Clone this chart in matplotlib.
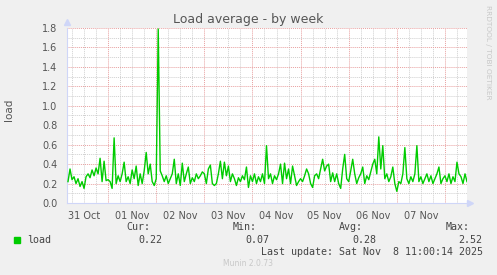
import numpy as np
import matplotlib
matplotlib.use("Agg")
import matplotlib.pyplot as plt

# hourly load averages, hours counted from 01 Nov 00:00
oct31 = [0.22, 0.35, 0.24, 0.27, 0.20, 0.25, 0.17, 0.22, 0.15, 0.27,
         0.30, 0.26, 0.34, 0.28, 0.36, 0.30, 0.46, 0.22, 0.43, 0.23]
nov01 = [0.24, 0.22, 0.15, 0.67, 0.20, 0.28, 0.22, 0.30, 0.42, 0.22, 0.27, 0.20,
         0.34, 0.25, 0.38, 0.18, 0.30, 0.20, 0.33, 0.52, 0.30, 0.40, 0.22, 0.18]
nov02 = [0.25, 1.79, 0.33, 0.28, 0.22, 0.28, 0.20, 0.25, 0.30, 0.45, 0.20, 0.30,
         0.18, 0.41, 0.22, 0.30, 0.37, 0.20, 0.26, 0.22, 0.30, 0.25, 0.28, 0.32]
nov03 = [0.30, 0.20, 0.35, 0.39, 0.20, 0.18, 0.20, 0.30, 0.43, 0.25, 0.42, 0.28,
         0.38, 0.22, 0.30, 0.25, 0.18, 0.26, 0.22, 0.28, 0.24, 0.37, 0.16, 0.28]
nov04 = [0.22, 0.30, 0.20, 0.27, 0.22, 0.30, 0.20, 0.59, 0.25, 0.30, 0.20, 0.28,
         0.24, 0.30, 0.40, 0.20, 0.41, 0.25, 0.35, 0.20, 0.38, 0.28, 0.18, 0.22]
nov05 = [0.25, 0.22, 0.28, 0.35, 0.30, 0.20, 0.16, 0.28, 0.30, 0.25, 0.35, 0.45,
         0.33, 0.38, 0.40, 0.22, 0.31, 0.22, 0.30, 0.20, 0.15, 0.35, 0.50, 0.25]
nov06 = [0.22, 0.33, 0.45, 0.30, 0.20, 0.26, 0.30, 0.37, 0.20, 0.28, 0.24, 0.32,
         0.40, 0.45, 0.30, 0.68, 0.35, 0.59, 0.25, 0.30, 0.22, 0.27, 0.37, 0.20]
nov07 = [0.12, 0.22, 0.20, 0.30, 0.57, 0.25, 0.20, 0.27, 0.22, 0.30, 0.59, 0.22,
         0.27, 0.20, 0.25, 0.30, 0.22, 0.28, 0.20, 0.25, 0.30, 0.37, 0.20, 0.25]
nov08 = [0.28, 0.22, 0.30, 0.20, 0.27, 0.22, 0.42, 0.30, 0.27, 0.20, 0.30, 0.22]

load = oct31 + nov01 + nov02 + nov03 + nov04 + nov05 + nov06 + nov07 + nov08
hours = np.arange(-len(oct31), -len(oct31) + len(load))

day_labels = ["31 Oct", "01 Nov", "02 Nov", "03 Nov", "04 Nov", "05 Nov", "06 Nov", "07 Nov"]
day_noon = [-12 + 24 * i for i in range(len(day_labels))]

stats = {"Cur:": "0.22", "Min:": "0.07", "Avg:": "0.28", "Max:": "2.52"}

W, H = 497, 275
fig = plt.figure(figsize=(W / 100, H / 100), dpi=100, facecolor="#F0F0F0")
ax = fig.add_axes([67 / W, (H - 203) / H, 400 / W, 175 / H], facecolor="white")

xmin, xmax = -20.5, 179
ymin, ymax = 0, 1.8
ax.set_xlim(xmin, xmax)
ax.set_ylim(ymin, ymax)

# grid: grey dotted minor, red dotted major
dots = (0, (1, 1))
minor_x = [h for h in np.arange(-18, 180, 6) if h % 24 != 0]
major_x = np.arange(0, 180, 24)
ax.vlines(minor_x, ymin, ymax, colors="#d0d0d0", linestyles=dots, lw=0.7, zorder=1)
ax.vlines(major_x, ymin, ymax, colors="#e8a0a0", linestyles=dots, lw=0.7, zorder=1)
ax.hlines(np.arange(0.1, 1.8, 0.2), xmin, xmax, colors="#d0d0d0", linestyles=dots, lw=0.7, zorder=1)
ax.hlines(np.arange(0.2, 1.81, 0.2), xmin, xmax, colors="#e8a0a0", linestyles=dots, lw=0.7, zorder=1)

ax.plot(hours, load, color="#00CC00", lw=1.0, zorder=3)

ax.set_xticks(day_noon, day_labels)
ax.set_yticks(np.arange(0, 1.81, 0.2), [f"{v:.1f}" for v in np.arange(0, 1.81, 0.2)])
ax.tick_params(length=0, labelsize=7, colors="#555555")
ax.tick_params(axis="y", pad=7)
ax.tick_params(axis="x", pad=6)

for s in ["top", "right"]:
    ax.spines[s].set_visible(False)
for s in ["left", "bottom"]:
    ax.spines[s].set_color("#CFD6F8")
ax.plot(0, 1.035, "^", color="#CFD6F8", ms=4, transform=ax.transAxes, clip_on=False)
ax.plot(1.008, 0, ">", color="#CFD6F8", ms=4, transform=ax.transAxes, clip_on=False)


def px(x, y, s, **kw):
    fig.text(x / W, 1 - y / H, s, **kw)


px(248, 20, "Load average - by week", ha="center", va="center", fontsize=9, color="#555555")
px(9, 110, "load", ha="center", va="center", rotation=90, fontsize=7.5, color="#555555")
px(488, 5, "RRDTOOL / TOBI OETIKER", ha="center", va="top", rotation=270,
   fontsize=5.3, color="#c8c8c8")

mono = dict(family="DejaVu Sans Mono", fontsize=7.2, color="#444444", va="center")
fig.patches.append(plt.Rectangle((14 / W, 1 - 243 / H), 6 / W, 6 / H,
                                 transform=fig.transFigure, color="#00CC00"))
px(27, 240, "load", ha="left", **mono)
label_right = [150, 257, 363, 470]
value_right = [162, 269, 376, 482]
for (k, v), lr, vr in zip(stats.items(), label_right, value_right):
    px(lr, 227, k, ha="right", **mono)
    px(vr, 240, v, ha="right", **mono)
px(483, 252, "Last update: Sat Nov  8 11:00:14 2025", ha="right", **mono)
px(248, 263, "Munin 2.0.73", ha="center", va="center", fontsize=5.5, color="#c8c8c8")

fig.savefig("out.png", dpi=100, facecolor=fig.get_facecolor())
